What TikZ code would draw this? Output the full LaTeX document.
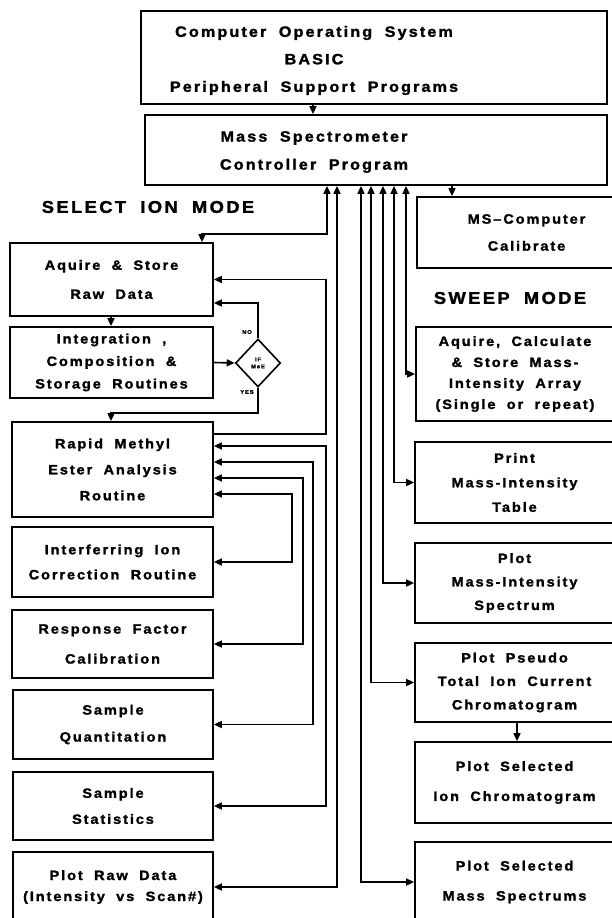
\documentclass[tikz,border=0pt]{standalone}
\usepackage{fontspec}
\setmainfont{Liberation Sans}[UprightFont=* Bold, BoldFont=* Bold, LetterSpace=14, FakeStretch=1.08, FakeBold=1.6, WordSpace=1.9]
\usetikzlibrary{arrows.meta,shapes.geometric}
\newcommand\bxfont[1]{\fontsize{13.5pt}{#1pt}\selectfont}
\newcommand\tpfont[1]{\fontsize{15pt}{#1pt}\selectfont}
\begin{document}
\begin{tikzpicture}[x=1pt,y=-1pt,
  box/.style={draw, line width=1.7pt, inner sep=0pt, align=center, font=\bxfont{#1}},
  box/.default=26,
  txt/.style={align=center, inner sep=0pt, font=\tpfont{#1}},
  txt/.default=27,
  modelab/.style={inner sep=0pt, font=\fontsize{17pt}{20pt}\selectfont},
  small/.style={inner sep=0pt, font=\fontsize{5.5pt}{7pt}\selectfont},
  conn/.style={line width=1.6pt},
  >={Triangle[length=8pt,width=7pt]}]
\useasboundingbox (0,0) rectangle (612,918);
% bus coordinates
\coordinate (b111) at (111,0);
\coordinate (b202) at (202,0);
\coordinate (b292) at (292,0);
\coordinate (b303) at (303,0);
\coordinate (b313) at (313,0);
\coordinate (b326) at (326,0);
\coordinate (b327) at (327,0);
\coordinate (b337) at (337,0);
\coordinate (b361) at (361,0);
\coordinate (b371) at (371,0);
\coordinate (b383) at (383,0);
\coordinate (b394) at (394,0);
\coordinate (b406) at (406,0);
\coordinate (b452) at (452,0);
\coordinate (b517) at (517,0);
% top boxes
\node[box, minimum width=466pt, minimum height=93pt] (top) at (374,57.5) {};
\node[txt=27.5] (toptxt) at (314,60.5) {Computer Operating System\\BASIC\\Peripheral Support Programs};
\node[box, minimum width=462pt, minimum height=70pt] (ctrl) at (376,150) {};
\node[txt=28] (ctrltxt) at (314,152) {Mass Spectrometer\\Controller Program};
% labels
\node[modelab] (selmode) at (148,207) {SELECT ION MODE};
\node[modelab] (swmode) at (510,298) {SWEEP MODE};
% left column
\node[box=29, minimum width=203pt, minimum height=73pt] (acq) at (111.5,279.5) {Aquire \& Store\\Raw Data};
\node[box=22.5, minimum width=203pt, minimum height=71pt] (integ) at (111.5,362.5) {Integration ,\\Composition \&\\Storage Routines};
\node[diamond, draw, line width=1.6pt, minimum width=45pt, minimum height=48pt, inner sep=0pt, align=center, small] (dec) at (258,363) {IF\\MeE};
\node[small] (no) at (247,332) {NO};
\node[small] (yes) at (247,392) {YES};
\node[box=26, minimum width=201pt, minimum height=95pt] (rapid) at (112.5,469.5) {Rapid Methyl\\Ester Analysis\\Routine};
\node[box=25, minimum width=201pt, minimum height=70pt] (interf) at (112.5,562) {Interferring Ion\\Correction Routine};
\node[box=30, minimum width=201pt, minimum height=68pt] (resp) at (112.5,644) {Response Factor\\Calibration};
\node[box=27, minimum width=200pt, minimum height=69pt] (quant) at (113,724.5) {Sample\\Quantitation};
\node[box=26, minimum width=200pt, minimum height=68pt] (stats) at (113,806) {Sample\\Statistics};
\node[box=21, minimum width=200pt, minimum height=70pt] (rawplot) at (113,887) {Plot Raw Data\\(Intensity vs Scan\#)};
% right column
\node[box=27, minimum width=197pt, minimum height=71pt] (mscal) at (515.5,232.5) {\hspace*{22pt}MS\textendash Computer\\\hspace*{22pt}Calibrate};
\node[box=21, minimum width=198pt, minimum height=94pt] (acqcalc) at (515,374) {Aquire, Calculate\\\& Store Mass-\\Intensity Array\\(Single or repeat)};
\node[box=24.5, minimum width=199pt, minimum height=81pt] (print) at (514.5,482.5) {Print\\Mass-Intensity\\Table};
\node[box=23.5, minimum width=199pt, minimum height=80pt] (plotms) at (514.5,583) {Plot\\Mass-Intensity\\Spectrum};
\node[box=23.5, minimum width=199pt, minimum height=79pt] (pseudo) at (514.5,682.5) {Plot Pseudo\\Total Ion Current\\Chromatogram};
\node[box=30, minimum width=199pt, minimum height=81pt] (selion) at (514.5,782.5) {Plot Selected\\Ion Chromatogram};
\node[box=30, minimum width=199pt, minimum height=80pt] (selms) at (514.5,882) {Plot Selected\\Mass Spectrums};
% connectors
\draw[conn,->] (top.south -| b313) -- (ctrl.north -| b313);
\draw[conn,->] (ctrl.south -| b452) -- (mscal.north -| b452);
\draw[conn,<->] (ctrl.south -| b327) -- ++(0,48) -| (acq.north -| b202);
\draw[conn,<->] (ctrl.south -| b337) |- (rawplot.east);
\draw[conn,<->] (ctrl.south -| b361) |- (selms.west);
\draw[conn,<->] (ctrl.south -| b371) |- (pseudo.west);
\draw[conn,<->] (ctrl.south -| b383) |- (plotms.west);
\draw[conn,<->] (ctrl.south -| b394) |- (print.west);
\draw[conn,<->] (ctrl.south -| b406) |- (acqcalc.west);
\draw[conn,->] (acq.south -| b111) -- (integ.north -| b111);
\draw[conn,->] (integ.east) -- (dec.west);
\draw[conn,->] (dec.north) |- ([yshift=-23.5pt]acq.east);
\draw[conn,->] (dec.south) -- ++(0,25) -| (rapid.north -| b111);
\draw[conn,->] ([yshift=35.5pt]rapid.east) -| (b326 |- acq.east) -- (acq.east);
\draw[conn,<->] ([yshift=23.5pt]rapid.east) -| (b326 |- stats.east) -- (stats.east);
\draw[conn,<->] ([yshift=7.5pt]rapid.east) -| (b313 |- quant.east) -- (quant.east);
\draw[conn,<->] ([yshift=-8.5pt]rapid.east) -| (b303 |- resp.east) -- (resp.east);
\draw[conn,<->] ([yshift=-24.5pt]rapid.east) -| (b292 |- interf.east) -- (interf.east);
\draw[conn,->] (pseudo.south -| b517) -- (selion.north -| b517);
\end{tikzpicture}
\end{document}
